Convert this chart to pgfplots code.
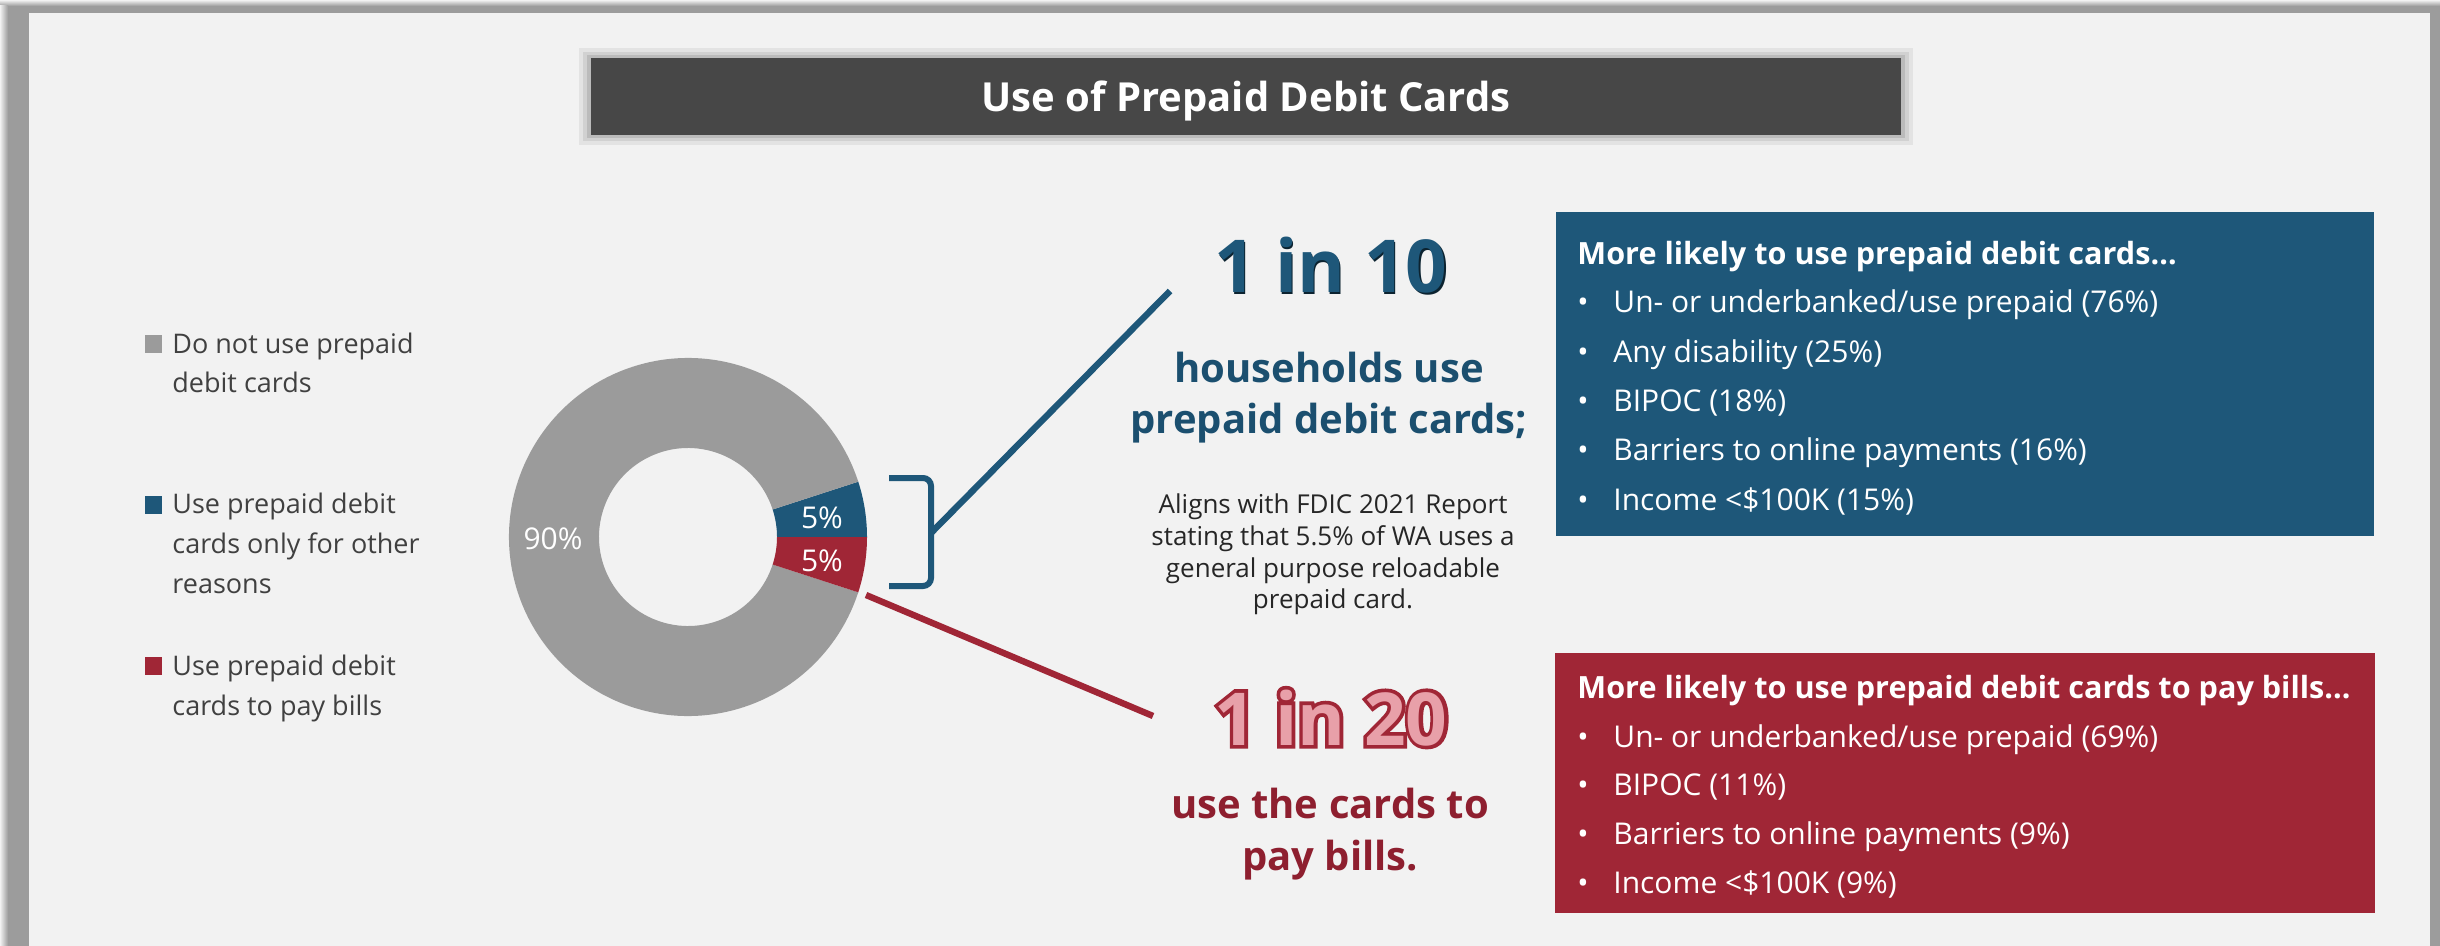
\documentclass[border=0pt]{standalone}
\usepackage{fontspec}
\setmainfont{Open Sans}
\usepackage{pgfplots}
\pgfplotsset{compat=1.18}
\usepackage{pgfplotstable}

\definecolor{bg}{HTML}{F2F2F2}
\definecolor{framec}{HTML}{9C9C9C}
\definecolor{ttl}{HTML}{474747}
\definecolor{gslice}{HTML}{9B9B9B}
\definecolor{bluec}{HTML}{1E5779}
\definecolor{redc}{HTML}{A02636}
\definecolor{pinkc}{HTML}{E8A0A9}
\definecolor{legtext}{HTML}{404040}
\definecolor{darkblue}{HTML}{1B4F6F}
\definecolor{darkred}{HTML}{8E1F2F}
\definecolor{smalltext}{HTML}{262626}

\tikzset{
  leg/.style={anchor=base west, text=legtext, inner sep=0pt, font=\fontsize{13.5pt}{16pt}\selectfont},
  bul/.style={anchor=base west, text=white, inner sep=0pt, font=\fontsize{15pt}{18pt}\selectfont},
  btitle/.style={anchor=base west, text=white, inner sep=0pt, font=\fontsize{15.3pt}{18pt}\selectfont\bfseries},
  small/.style={anchor=base, text=smalltext, inner sep=0pt, font=\fontsize{13pt}{15pt}\selectfont},
  big/.style={anchor=base, inner sep=0pt, font=\fontsize{20pt}{23pt}\selectfont\bfseries},
  pct/.style={text=white, inner sep=0pt, font=\fontsize{15pt}{18pt}\selectfont},
}

% share of households (percent), in drawing order counter-clockwise from 0 degrees
\pgfplotstableread{
segment value
OtherReasons 5
DoNotUse 90
PayBills 5
}\donutdata

\newcommand\sector[3]{%
  \fill[#1] (axis cs:{688+179*cos(#2)},{537-179*sin(#2)})
    arc[start angle=#2, end angle=#3, radius=89.5pt]
    -- (axis cs:{688+89*cos(#3)},{537-89*sin(#3)})
    arc[start angle=#3, end angle=#2, radius=44.5pt] -- cycle;}

\begin{document}
\begin{tikzpicture}
\pgfplotstablegetelem{0}{value}\of\donutdata \let\vA\pgfplotsretval
\pgfplotstablegetelem{1}{value}\of\donutdata \let\vB\pgfplotsretval
\pgfplotstablegetelem{2}{value}\of\donutdata \let\vC\pgfplotsretval
\pgfmathsetmacro\aA{0}
\pgfmathsetmacro\aB{\aA+3.6*\vA}
\pgfmathsetmacro\aC{\aB+3.6*\vB}
\pgfmathsetmacro\aD{\aC+3.6*\vC}
\begin{axis}[at={(0,0)}, anchor=south west, width=1220pt, height=473pt,
  scale only axis, xmin=0, xmax=2440, ymin=0, ymax=946, y dir=reverse,
  hide axis, clip=false]
% background and frame
\fill[bg] (axis cs:0,0) rectangle (axis cs:2440,946);
\fill[framec] (axis cs:0,0) rectangle (axis cs:2440,13);
\fill[framec] (axis cs:0,0) rectangle (axis cs:29,946);
\fill[framec] (axis cs:2430,0) rectangle (axis cs:2440,946);
\shade[top color=bg, bottom color=framec] (axis cs:0,0) rectangle (axis cs:2440,6);
\shade[left color=bg, right color=framec] (axis cs:0,6) rectangle (axis cs:8,946);

% title bar with soft shadow
\fill[black, opacity=0.06] (axis cs:579,48) rectangle (axis cs:1913,145);
\fill[black, opacity=0.08] (axis cs:583,52) rectangle (axis cs:1909,141);
\fill[black, opacity=0.10] (axis cs:587,55) rectangle (axis cs:1905,138);
\fill[ttl] (axis cs:591,58) rectangle (axis cs:1901,135);
\node[anchor=base, text=white, inner sep=0pt, font=\fontsize{20pt}{24pt}\selectfont\bfseries] at (axis cs:1246,112) {Use of Prepaid Debit Cards};

% donut
\sector{bluec}{\aA}{\aB}
\sector{gslice}{\aB}{\aC}
\sector{redc}{\aC}{\aD}
\node[pct] at (axis cs:822,518) {\vA\%};
\node[pct] at (axis cs:822,561) {\vC\%};
\node[pct] at (axis cs:553,539) {\vB\%};

% legend
\fill[gslice] (axis cs:145,335) rectangle (axis cs:162,353);
\node[leg] at (axis cs:172,354) {Do not use prepaid};
\node[leg] at (axis cs:172,393) {debit cards};
\fill[bluec] (axis cs:145,496) rectangle (axis cs:162,514);
\node[leg] at (axis cs:172,513) {Use prepaid debit};
\node[leg] at (axis cs:172,553) {cards only for other};
\node[leg] at (axis cs:172,593) {reasons};
\fill[redc] (axis cs:145,657) rectangle (axis cs:162,675);
\node[leg] at (axis cs:172,675) {Use prepaid debit};
\node[leg] at (axis cs:172,715) {cards to pay bills};

% bracket and connectors
\draw[bluec, line width=3pt, rounded corners=4pt] (axis cs:889,478) -- (axis cs:931,478) -- (axis cs:931,586) -- (axis cs:889,586);
\draw[bluec, line width=3.2pt] (axis cs:931,533) -- (axis cs:1170,291);
\draw[redc, line width=3.2pt] (axis cs:866,595) -- (axis cs:1153,716);

% blue callout
\node[anchor=base, text=black!60!bluec, inner sep=0pt, font=\fontsize{36.5pt}{40pt}\selectfont\bfseries] at (axis cs:1332.5,294.5) {1 in 10};
\node[anchor=base, text=bluec, inner sep=0pt, font=\fontsize{36.5pt}{40pt}\selectfont\bfseries] at (axis cs:1331,293) {1 in 10};
\node[big, text=darkblue] at (axis cs:1329,383) {households use};
\node[big, text=darkblue] at (axis cs:1329,433) {prepaid debit cards;};
\node[small] at (axis cs:1333,513) {Aligns with FDIC 2021 Report};
\node[small] at (axis cs:1333,545) {stating that 5.5\% of WA uses a};
\node[small] at (axis cs:1333,577) {general purpose reloadable};
\node[small] at (axis cs:1333,608) {prepaid card.};

% red callout (pink fill, red outline)
\node[anchor=base, text=redc, inner sep=0pt, font=\fontsize{36.5pt}{40pt}\selectfont\bfseries\addfontfeature{FakeBold=10}] at (axis cs:1331,745) {1 in 20};
\node[anchor=base, text=pinkc, inner sep=0pt, font=\fontsize{36.5pt}{40pt}\selectfont\bfseries] at (axis cs:1331,745) {1 in 20};
\node[big, text=darkred] at (axis cs:1330,818) {use the cards to};
\node[big, text=darkred] at (axis cs:1330,870) {pay bills.};

% blue box
\fill[bluec] (axis cs:1556,212) rectangle (axis cs:2374,536);
\node[btitle] at (axis cs:1577,265) {More likely to use prepaid debit cards\dots};
\node[bul] at (axis cs:1577,313) {\textbullet}; \node[bul] at (axis cs:1613,313) {Un- or underbanked/use prepaid (76\%)};
\node[bul] at (axis cs:1577,363) {\textbullet}; \node[bul] at (axis cs:1613,363) {Any disability (25\%)};
\node[bul] at (axis cs:1577,412) {\textbullet}; \node[bul] at (axis cs:1613,412) {BIPOC (18\%)};
\node[bul] at (axis cs:1577,460) {\textbullet}; \node[bul] at (axis cs:1613,460) {Barriers to online payments (16\%)};
\node[bul] at (axis cs:1577,510) {\textbullet}; \node[bul] at (axis cs:1613,510) {Income <\$100K (15\%)};

% red box
\fill[redc] (axis cs:1555,653) rectangle (axis cs:2375,913);
\node[btitle] at (axis cs:1577,698) {More likely to use prepaid debit cards to pay bills\dots};
\node[bul] at (axis cs:1577,747) {\textbullet}; \node[bul] at (axis cs:1613,747) {Un- or underbanked/use prepaid (69\%)};
\node[bul] at (axis cs:1577,795) {\textbullet}; \node[bul] at (axis cs:1613,795) {BIPOC (11\%)};
\node[bul] at (axis cs:1577,844) {\textbullet}; \node[bul] at (axis cs:1613,844) {Barriers to online payments (9\%)};
\node[bul] at (axis cs:1577,893) {\textbullet}; \node[bul] at (axis cs:1613,893) {Income <\$100K (9\%)};
\end{axis}
\pgfresetboundingbox
\path (0,0) rectangle (1220pt,473pt);
\end{tikzpicture}
\end{document}
